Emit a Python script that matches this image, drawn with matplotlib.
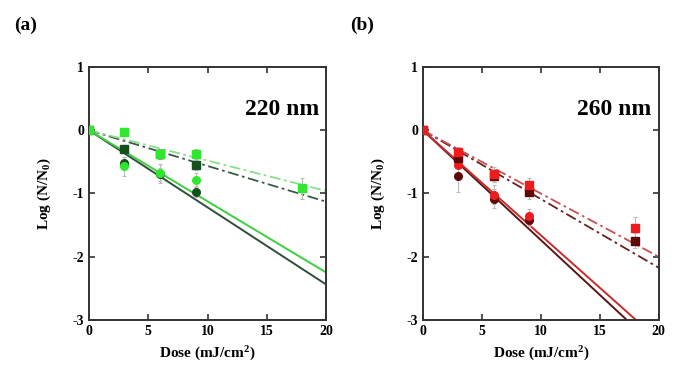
import numpy as np
import matplotlib.pyplot as plt

plt.rcParams['font.family'] = ['Liberation Serif', 'DejaVu Serif']
plt.rcParams['font.weight'] = 'bold'
plt.rcParams['axes.unicode_minus'] = False
plt.rcParams['mathtext.fontset'] = 'custom'
plt.rcParams['mathtext.rm'] = 'Liberation Serif:bold'
plt.rcParams['mathtext.bf'] = 'Liberation Serif:bold'
plt.rcParams['mathtext.default'] = 'bf'

# dose points (mJ/cm2)
dose_sq = [0, 3, 6, 9, 18]
dose_ci = [0, 3, 6, 9]

# 220 nm panel
a_light_sq = [0, -0.03, -0.37, -0.38, -0.92]
a_light_sq_err = [0, 0.06, 0.08, 0.08, 0.17]
a_dark_sq = [0, -0.29, -0.37, -0.55, np.nan]
a_dark_sq_err = [0, 0.06, 0.08, 0.08, 0]
a_light_ci = [0, -0.57, -0.68, -0.78]
a_light_ci_err = [0, 0.15, 0.15, 0.1]
a_dark_ci = [0, -0.52, -0.7, -0.97]
a_dark_ci_err = [0, 0.1, 0.1, 0.08]
a_slopes = [-0.1125, -0.122, -0.048, -0.0565]  # light solid, dark solid, light dashdot, dark dashdot

# 260 nm panel
b_light_sq = [0, -0.35, -0.70, -0.87, -1.55]
b_light_sq_err = [0, 0.08, 0.12, 0.12, 0.18]
b_dark_sq = [0, -0.44, -0.72, -0.98, -1.75]
b_dark_sq_err = [0, 0.08, 0.1, 0.1, 0.12]
b_light_ci = [0, -0.55, -1.02, -1.36]
b_light_ci_err = [0, 0.12, 0.15, 0.12]
b_dark_ci = [0, -0.73, -1.08, -1.42]
b_dark_ci_err = [0, 0.25, 0.15, 0.1]
b_slopes = [-0.166, -0.1735, -0.100, -0.1087]

fig = plt.figure(figsize=(7, 3.85), dpi=100)
axa = fig.add_axes([0.127, 0.169, 0.339, 0.657])
axb = fig.add_axes([0.604, 0.169, 0.337, 0.657])


def panel(ax, sq_l, sq_le, sq_d, sq_de, ci_l, ci_le, ci_d, ci_de, slopes,
          c_light, c_dark, c_lline, c_dline, c_ldash, c_ddash, label):
    xx = np.array([0, 20])
    ax.plot(xx, slopes[1] * xx, color=c_dline, lw=1.4, zorder=2)
    ax.plot(xx, slopes[0] * xx, color=c_lline, lw=1.4, zorder=2)
    ax.plot(xx, slopes[3] * xx, color=c_ddash, lw=1.3, ls=(0, (6, 2, 1.5, 2)), zorder=2)
    ax.plot(xx, slopes[2] * xx, color=c_ldash, lw=1.3, ls=(0, (6, 2, 1.5, 2)), zorder=2)
    ekw = dict(ecolor='#bbbbbb', elinewidth=0.8, capsize=1.5, capthick=0.8, ls='none')
    ax.errorbar(dose_ci, ci_d, yerr=ci_de, marker='o', ms=5.5, color=c_dark, zorder=3, **ekw)
    ax.errorbar(dose_ci, ci_l, yerr=ci_le, marker='o', ms=5.5, color=c_light, zorder=3, **ekw)
    ax.errorbar(dose_sq, sq_d, yerr=sq_de, marker='s', ms=6, color=c_dark, zorder=3, **ekw)
    ax.errorbar(dose_sq, sq_l, yerr=sq_le, marker='s', ms=6, color=c_light, zorder=3, **ekw)
    ax.set_xlim(0, 20)
    ax.set_ylim(-3, 1)
    ax.set_xticks([0, 5, 10, 15, 20])
    ax.set_yticks([-3, -2, -1, 0, 1])
    ax.tick_params(direction='in', top=True, right=True, labelsize=10, length=4,
                   width=1.2, color='#333333')
    for s in ax.spines.values():
        s.set_linewidth(1.4)
        s.set_color('#333333')
    ax.set_xlabel('Dose (mJ/cm$^{2}$)', fontsize=11, fontweight='bold', labelpad=5)
    ax.set_ylabel('Log (N/N$_{0}$)', fontsize=11, fontweight='bold', labelpad=14)
    ax.text(0.97, 0.83, label, transform=ax.transAxes, ha='right', va='center',
            fontsize=17, fontweight='bold')


panel(axa, a_light_sq, a_light_sq_err, a_dark_sq, a_dark_sq_err,
      a_light_ci, a_light_ci_err, a_dark_ci, a_dark_ci_err, a_slopes,
      '#2ee82e', '#14501e', '#3ecf3e', '#2f4f3a', '#88e088', '#3a5a44', '220 nm')
panel(axb, b_light_sq, b_light_sq_err, b_dark_sq, b_dark_sq_err,
      b_light_ci, b_light_ci_err, b_dark_ci, b_dark_ci_err, b_slopes,
      '#ee1c1c', '#600808', '#cc2a2a', '#5a1515', '#c85050', '#6a2020', '260 nm')

fig.text(0.02, 0.935, '(a)', fontsize=14, fontweight='bold', va='center')
fig.text(0.5, 0.935, '(b)', fontsize=14, fontweight='bold', va='center')

fig.savefig('out.png', dpi=100)
